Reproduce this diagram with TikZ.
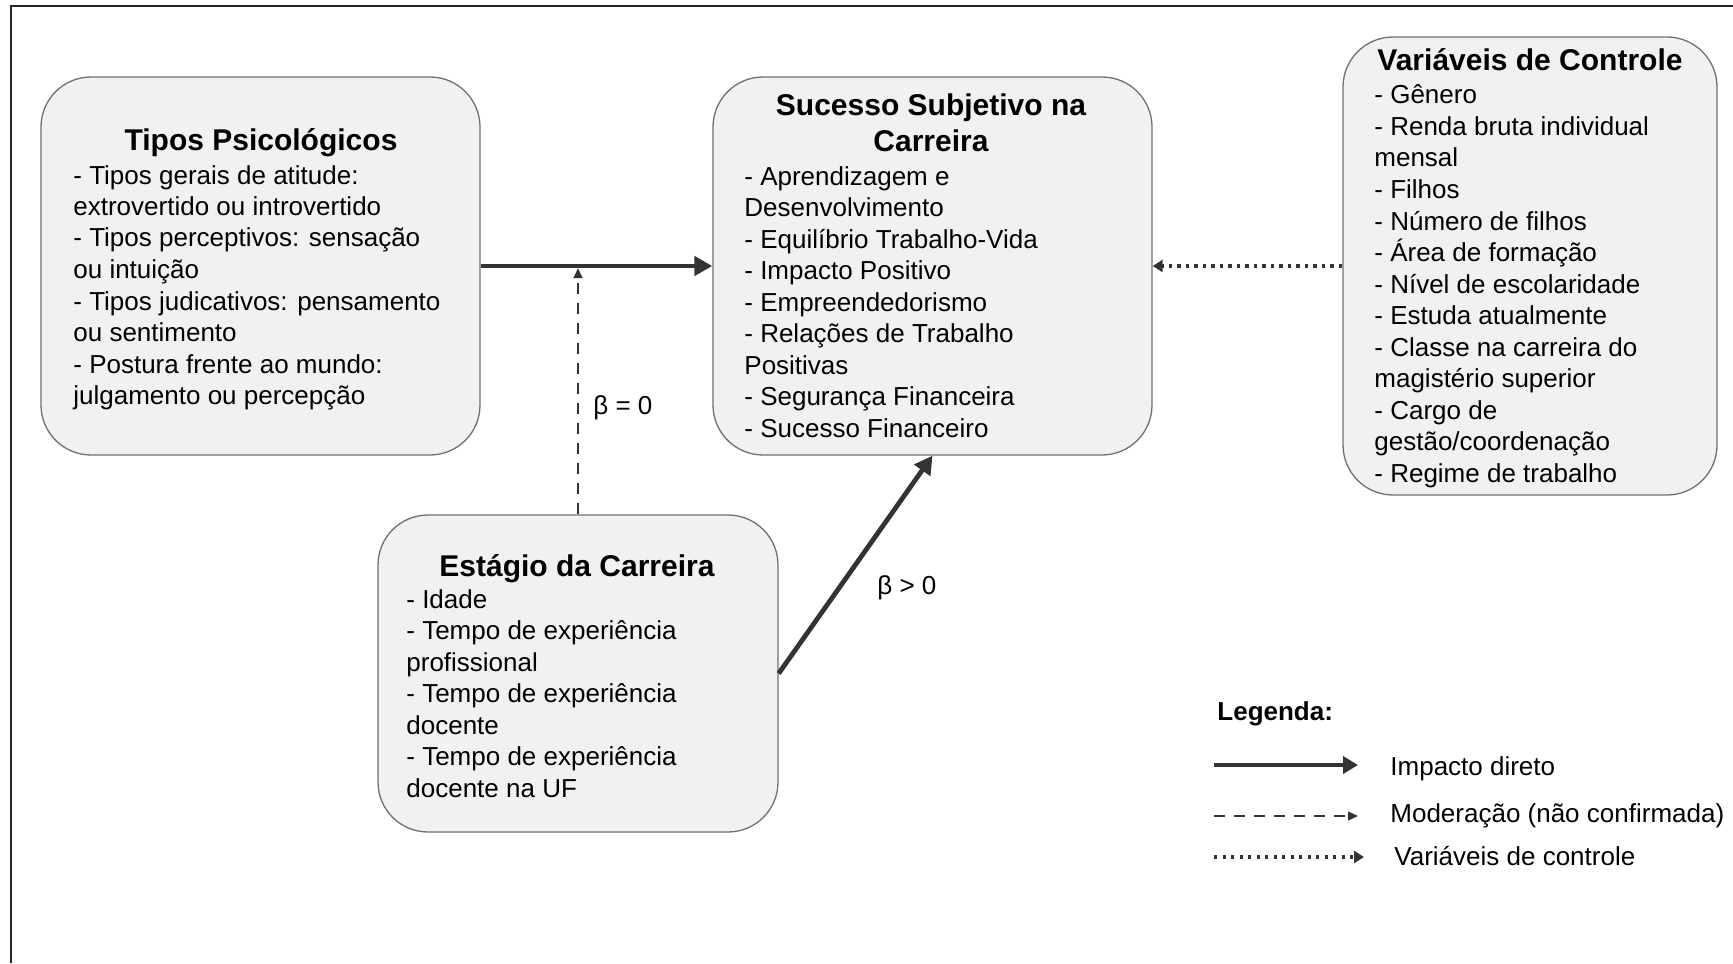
\documentclass[tikz,border=0pt]{standalone}
\usepackage{fontspec}
\setmainfont{Liberation Sans}
\usetikzlibrary{arrows.meta}
\definecolor{boxfill}{HTML}{F1F1F1}
\definecolor{boxline}{HTML}{707070}
\definecolor{ink}{HTML}{333333}
\begin{document}
\begin{tikzpicture}[x=0.5pt,y=-0.5pt,
  panel/.style={draw=boxline, fill=boxfill, line width=0.65pt, rounded corners=25pt, inner sep=0pt},
  boxtitle/.style={anchor=base, inner sep=0pt, font=\fontsize{15}{17.5}\selectfont\bfseries},
  boxbody/.style={anchor=base west, inner sep=0pt, font=\fontsize{13}{15.75}\selectfont},
  note/.style={anchor=base west, inner sep=0pt, font=\fontsize{13}{15.75}\selectfont},
  direct/.style={draw=ink, line width=2.4pt, -{Triangle[length=9pt,width=9.5pt]}},
  moder/.style={draw=ink, line width=0.7pt, dash pattern=on 5.5pt off 4.5pt, -{Triangle[length=5pt,width=4.5pt]}},
  ctrl/.style={draw=ink, line width=1.8pt, dash pattern=on 1.7pt off 2.55pt, -{Triangle[length=5pt,width=6pt]}},
]
\useasboundingbox (0,0) rectangle (1733,963);

% outer frame (top and left edges)
\draw[line width=1pt, black!85] (1733,6) -- (11,6) -- (11,963);

% boxes
\node[panel, minimum width=219.5pt, minimum height=189pt] (tipos) at (260.5,266) {};
\node[panel, minimum width=219.5pt, minimum height=189pt] (sucesso) at (932.5,266) {};
\node[panel, minimum width=187pt, minimum height=229pt] (controle) at (1530,266) {};
\node[panel, minimum width=200pt, minimum height=158.5pt] (estagio) at (578,673.5) {};

% box contents
\node[boxtitle] (tiposT) at (261,150) {Tipos Psicológicos};
\node[boxbody] (tiposB) at (73,184) {\begin{tabular}[t]{@{}l@{}}
- Tipos gerais de atitude:\\
extrovertido ou introvertido\\
- Tipos perceptivos: sensação\\
ou intuição\\
- Tipos judicativos: pensamento\\
ou sentimento\\
- Postura frente ao mundo:\\
julgamento ou percepção\end{tabular}};

\node[boxtitle] (sucessoT) at (931,116) {\begin{tabular}[t]{@{}c@{}}Sucesso Subjetivo na\\Carreira\end{tabular}};
\node[boxbody] (sucessoB) at (744,185) {\begin{tabular}[t]{@{}l@{}}
- Aprendizagem e\\
Desenvolvimento\\
- Equilíbrio Trabalho-Vida\\
- Impacto Positivo\\
- Empreendedorismo\\
- Relações de Trabalho\\
Positivas\\
- Segurança Financeira\\
- Sucesso Financeiro\end{tabular}};

\node[boxtitle] (controleT) at (1530,71) {Variáveis de Controle};
\node[boxbody] (controleB) at (1374,104) {\begin{tabular}[t]{@{}l@{}}
- Gênero\\
- Renda bruta individual\\
mensal\\
- Filhos\\
- Número de filhos\\
- Área de formação\\
- Nível de escolaridade\\
- Estuda atualmente\\
- Classe na carreira do\\
magistério superior\\
- Cargo de\\
gestão/coordenação\\
- Regime de trabalho\end{tabular}};

\node[boxtitle] (estagioT) at (577,576) {Estágio da Carreira};
\node[boxbody] (estagioB) at (406,608) {\begin{tabular}[t]{@{}l@{}}
- Idade\\
- Tempo de experiência\\
profissional\\
- Tempo de experiência\\
docente\\
- Tempo de experiência\\
docente na UF\end{tabular}};

% connectors
\coordinate (modtip) at ([yshift=-1.1pt]estagio.north |- tipos.east);
\draw[direct] (tipos.east) -- (sucesso.west);
\draw[moder] (estagio.north) -- (modtip);
\draw[direct] (estagio.east) -- (sucesso.south);
\draw[ctrl] (controle.west) -- (sucesso.east);

\node[note] (beta0) at (593,414) {β = 0};
\node[note] (beta1) at (877,594) {β > 0};

% legend
\node[note, font=\fontsize{13}{15.75}\selectfont\bfseries] (legT) at (1217,720) {Legenda:};
\coordinate (d1) at (1214,765); \coordinate (d2) at (1358,765);
\draw[direct, line width=2.1pt, -{Triangle[length=7.5pt,width=8.5pt]}] (d1) -- (d2);
\node[note] (legD) at (1390,775) {Impacto direto};
\coordinate (m1) at (1214,816); \coordinate (m2) at (1358,816);
\draw[moder] (m1) -- (m2);
\node[note] (legM) at (1390,822) {Moderação (não confirmada)};
\coordinate (c1) at (1214,857); \coordinate (c2) at (1364,857);
\draw[ctrl] (c1) -- (c2);
\node[note] (legC) at (1394,865) {Variáveis de controle};
\end{tikzpicture}
\end{document}
